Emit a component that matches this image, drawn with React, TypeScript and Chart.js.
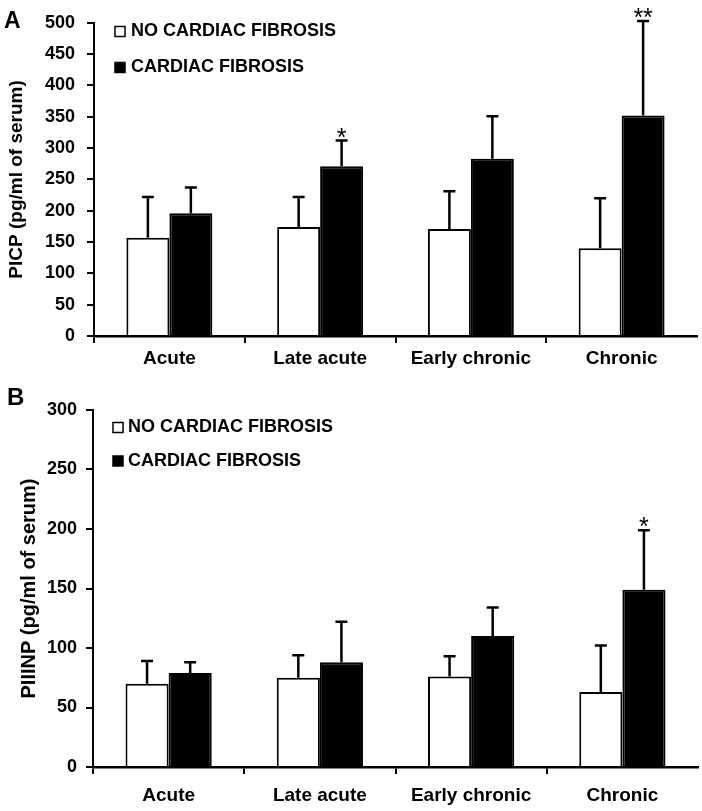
import React, { useEffect, useRef } from "react";
import { Chart, registerables } from "chart.js";

Chart.register(...registerables);

const FONT = "'Liberation Sans', Arial, Helvetica, sans-serif";

const categories = ["Acute", "Late acute", "Early chronic", "Chronic"];
const legendLabels = ["NO CARDIAC FIBROSIS", "CARDIAC FIBROSIS"];

// Panel A: PICP
const picpNoFibrosis = [157, 174, 171, 140];
const picpNoFibrosisErr = [65, 48, 60, 80];
const picpFibrosis = [196, 271, 283, 352];
const picpFibrosisErr = [41, 41, 68, 151];
const picpFibrosisStars = ["", "*", "", "**"];
const picpMax = 500;

// Panel B: PIIINP
const piiinpNoFibrosis = [70, 75, 76, 63];
const piiinpNoFibrosisErr = [19, 19, 17, 39];
const piiinpFibrosis = [79, 88, 110, 149];
const piiinpFibrosisErr = [9, 34, 24, 50];
const piiinpFibrosisStars = ["", "", "", "*"];
const piiinpMax = 300;

const tickStep = 50;

const annotatePlugin = {
  id: "annotate",
  afterDatasetsDraw(chart: any, _args: any, opts: any) {
    const ctx = chart.ctx;
    const yScale = chart.scales.y;
    chart.data.datasets.forEach((ds: any, i: number) => {
      const meta = chart.getDatasetMeta(i);
      meta.data.forEach((bar: any, j: number) => {
        const err = ds.errors ? ds.errors[j] : 0;
        const top = yScale.getPixelForValue(ds.data[j] + err);
        ctx.save();
        ctx.strokeStyle = "#000";
        ctx.lineWidth = 2.5;
        ctx.beginPath();
        ctx.moveTo(bar.x, bar.y);
        ctx.lineTo(bar.x, top);
        ctx.moveTo(bar.x - 6, top);
        ctx.lineTo(bar.x + 6, top);
        ctx.stroke();
        if (ds.stars && ds.stars[j]) {
          ctx.fillStyle = "#000";
          ctx.font = `25px ${FONT}`;
          ctx.textAlign = "center";
          ctx.textBaseline = "alphabetic";
          ctx.fillText(ds.stars[j], bar.x, top + 5);
        }
        ctx.restore();
      });
    });
  },
  afterDraw(chart: any, _args: any, opts: any) {
    const ctx = chart.ctx;
    ctx.save();
    // legend
    const lg = opts.legend;
    chart.data.datasets.forEach((ds: any, i: number) => {
      const cy = lg.y[i];
      ctx.fillStyle = ds.backgroundColor;
      ctx.fillRect(lg.x, cy - 5, 10, 10);
      ctx.strokeStyle = "#000";
      ctx.lineWidth = 1.5;
      ctx.strokeRect(lg.x, cy - 5, 10, 10);
      ctx.fillStyle = "#000";
      ctx.font = `bold 18px ${FONT}`;
      ctx.textAlign = "left";
      ctx.textBaseline = "middle";
      ctx.fillText(ds.label, lg.x + lg.gap, cy);
    });
    // panel letter
    const pl = opts.letter;
    ctx.fillStyle = "#000";
    ctx.font = `bold ${pl.size}px ${FONT}`;
    ctx.textAlign = "left";
    ctx.textBaseline = "alphabetic";
    ctx.fillText(pl.text, pl.x, pl.y);
    ctx.restore();
  },
};

function buildConfig(p: any) {
  return {
    type: "bar",
    data: {
      labels: categories,
      datasets: [
        {
          label: legendLabels[0],
          data: p.none,
          errors: p.noneErr,
          backgroundColor: "#ffffff",
          borderColor: "#000000",
          borderWidth: 2,
          categoryPercentage: 0.57,
          barPercentage: 1,
        },
        {
          label: legendLabels[1],
          data: p.fib,
          errors: p.fibErr,
          stars: p.fibStars,
          backgroundColor: "#000000",
          borderColor: "#000000",
          borderWidth: 2,
          categoryPercentage: 0.57,
          barPercentage: 1,
        },
      ],
    },
    options: {
      responsive: false,
      animation: false,
      events: [],
      layout: { padding: p.padding },
      plugins: {
        legend: { display: false },
        tooltip: { enabled: false },
        annotate: { legend: p.legend, letter: p.letter },
      },
      scales: {
        x: {
          offset: true,
          grid: {
            display: true,
            offset: true,
            drawOnChartArea: false,
            drawTicks: true,
            tickLength: 7,
            color: (c: any) => (c.tick ? "#000" : "rgba(0,0,0,0)"),
            lineWidth: 2,
          },
          border: { display: true, color: "#000", width: 2.5 },
          ticks: {
            color: "#000",
            font: { family: FONT, size: 19, weight: "bold" },
            padding: p.xPad,
            maxRotation: 0,
            autoSkip: false,
          },
          afterFit: (s: any) => {
            s.height = p.xHeight;
          },
        },
        y: {
          min: 0,
          max: p.max,
          grid: {
            display: true,
            drawOnChartArea: false,
            drawTicks: true,
            tickLength: 7,
            color: "#000",
            lineWidth: 2,
          },
          border: { display: true, color: "#000", width: 2 },
          ticks: {
            stepSize: tickStep,
            color: "#000",
            font: { family: FONT, size: 18, weight: "bold" },
            padding: p.yPad,
          },
          title: {
            display: true,
            text: p.title,
            color: "#000",
            font: { family: FONT, size: p.titleSize, weight: "bold" },
            padding: { top: p.titlePad, bottom: 0 },
          },
          afterFit: (s: any) => {
            s.width = p.yWidth;
          },
        },
      },
    },
    plugins: [annotatePlugin],
  };
}

function Panel(props: { cfg: any; width: number; height: number; top: number }) {
  const ref = useRef<HTMLCanvasElement | null>(null);
  useEffect(() => {
    if (!ref.current) return;
    const chart = new Chart(ref.current, buildConfig(props.cfg) as any);
    return () => chart.destroy();
  }, []);
  return (
    <canvas
      ref={ref}
      width={props.width}
      height={props.height}
      style={{
        position: "absolute",
        left: 0,
        top: props.top,
        width: props.width,
        height: props.height,
        display: "block",
      }}
    />
  );
}

const panelA = {
  none: picpNoFibrosis,
  noneErr: picpNoFibrosisErr,
  fib: picpFibrosis,
  fibErr: picpFibrosisErr,
  fibStars: picpFibrosisStars,
  max: picpMax,
  title: "PICP (pg/ml of serum)",
  titleSize: 19,
  titlePad: 5,
  padding: { left: 0, top: 22, right: 5, bottom: 0 },
  yWidth: 94,
  yPad: 12,
  xHeight: 44,
  xPad: 4,
  legend: { x: 115, gap: 16, y: [31.5, 67.5] },
  letter: { text: "A", x: 4, y: 28, size: 23 },
};

const panelB = {
  none: piiinpNoFibrosis,
  noneErr: piiinpNoFibrosisErr,
  fib: piiinpFibrosis,
  fibErr: piiinpFibrosisErr,
  fibStars: piiinpFibrosisStars,
  max: piiinpMax,
  title: "PIIINP (pg/ml of serum)",
  titleSize: 20,
  titlePad: 17,
  padding: { left: 0, top: 30, right: 4, bottom: 0 },
  yWidth: 93,
  yPad: 9,
  xHeight: 44,
  xPad: 10,
  legend: { x: 113, gap: 15, y: [47.5, 81] },
  letter: { text: "B", x: 7, y: 25, size: 24 },
};

export default function App() {
  return (
    <div
      style={{
        position: "absolute",
        left: 0,
        top: 0,
        width: 702,
        height: 811,
        background: "#ffffff",
        overflow: "hidden",
      }}
    >
      <Panel cfg={panelA} width={702} height={380} top={0} />
      <Panel cfg={panelB} width={702} height={431} top={380} />
    </div>
  );
}
